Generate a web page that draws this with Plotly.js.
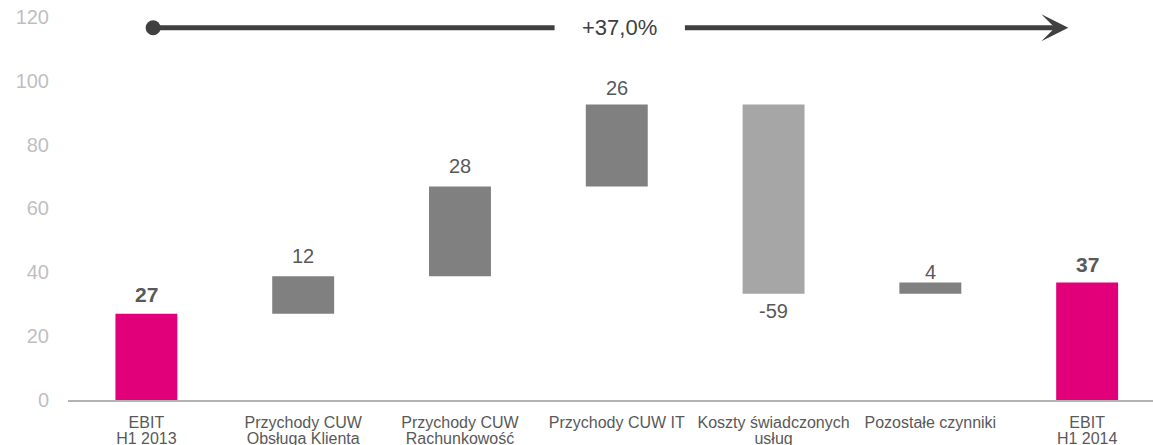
<!DOCTYPE html>
<html>
<head>
<meta charset="utf-8">
<script src="https://cdn.plot.ly/plotly-3.0.1.min.js"></script>
<style>
  html, body { margin: 0; padding: 0; background: #ffffff; }
  #chart { width: 1153px; height: 445px; }
</style>
</head>
<body>
<div id="chart"></div>
<script>
// ---- data ----
const labelLine1 = ['EBIT', 'Przychody CUW', 'Przychody CUW', 'Przychody CUW IT', 'Koszty świadczonych', 'Pozostałe czynniki', 'EBIT'];
const labelLine2 = ['H1 2013', 'Obsługa Klienta', 'Rachunkowość', '', 'usług', '', 'H1 2014'];
const values = [27.0, 11.8, 28.1, 25.7, -59.3, 3.5, 36.8];
const measures = ['total', 'relative', 'relative', 'relative', 'relative', 'relative', 'total'];
const valueLabels = ['27', '12', '28', '26', '-59', '4', '37'];
const changeLabel = '+37,0%';

// ---- styles ----
const FONT = 'Liberation Sans, Arial, sans-serif';
const colTotal = '#e2007a';
const colUp = '#808080';
const colDown = '#a6a6a6';
const labelGap = [12, 13, 13, 9, 8, 4, 11];

const xs = values.map((v, i) => i);
const bases = [];
const heights = [];
const colors = [];
let run = 0;
values.forEach((v, i) => {
  if (measures[i] === 'total') {
    bases.push(0); heights.push(v); colors.push(colTotal); run = v;
  } else {
    bases.push(run); heights.push(v); colors.push(v >= 0 ? colUp : colDown); run += v;
  }
});

const barTrace = {
  type: 'bar', x: xs, y: heights, base: bases, width: 0.395,
  marker: { color: colors, line: { width: 0 } },
  hoverinfo: 'skip', showlegend: false
};
const dummy = {
  type: 'scatter', mode: 'markers', x: xs, y: bases, xaxis: 'x2', yaxis: 'y',
  marker: { opacity: 0 }, hoverinfo: 'skip', showlegend: false
};

const annotations = [];
values.forEach((v, i) => {
  const isTot = measures[i] === 'total';
  const top = bases[i] + heights[i];
  if (v >= 0) {
    annotations.push({
      x: i, y: top, xref: 'x', yref: 'y', yanchor: 'bottom', showarrow: false,
      text: isTot ? '<b>' + valueLabels[i] + '</b>' : valueLabels[i],
      yshift: labelGap[i] - 6,
      font: { family: FONT, size: isTot ? 21 : 20, color: '#595959' }
    });
  } else {
    annotations.push({
      x: i, y: top, xref: 'x', yref: 'y', yanchor: 'top', showarrow: false,
      text: valueLabels[i], yshift: -(labelGap[i] - 4),
      font: { family: FONT, size: 20, color: '#595959' }
    });
  }
});

// growth arrow
const arrowY = 116.6;
annotations.push({
  x: 0.043, y: arrowY, ax: 2.613, ay: arrowY, xref: 'x', yref: 'y', axref: 'x', ayref: 'y',
  text: '', showarrow: true, arrowhead: 6, arrowsize: 0.75, arrowwidth: 5, arrowcolor: '#404040', standoff: 0
});
annotations.push({
  x: 5.88, y: arrowY, ax: 3.425, ay: arrowY, xref: 'x', yref: 'y', axref: 'x', ayref: 'y',
  text: '', showarrow: true, arrowhead: 3, arrowsize: 0.9, arrowwidth: 5, arrowcolor: '#404040', standoff: 0
});
annotations.push({
  x: 3.017, y: arrowY, xref: 'x', yref: 'y', showarrow: false, text: changeLabel,
  font: { family: FONT, size: 22, color: '#404040' }
});

const layout = {
  width: 1153, height: 445,
  margin: { l: 68, r: 0, t: 0, b: 45 },
  paper_bgcolor: '#ffffff', plot_bgcolor: '#ffffff',
  font: { family: FONT },
  showlegend: false,
  xaxis: {
    range: [-0.5, 6.42], tickmode: 'array', tickvals: xs, ticktext: labelLine1,
    showline: true, linecolor: '#b3b3b3', linewidth: 2, showgrid: false, zeroline: false,
    ticks: 'outside', ticklen: 7, tickcolor: 'rgba(0,0,0,0)',
    tickfont: { family: FONT, size: 16, color: '#595959' }, fixedrange: true
  },
  xaxis2: {
    overlaying: 'x', anchor: 'y', side: 'bottom',
    range: [-0.5, 6.42], tickmode: 'array', tickvals: xs, ticktext: labelLine2,
    showline: false, showgrid: false, zeroline: false, ticks: '', ticklabelstandoff: 27,
    tickfont: { family: FONT, size: 16, color: '#595959' }, fixedrange: true
  },
  yaxis: {
    range: [0, 125.3], tickmode: 'linear', tick0: 0, dtick: 20,
    showline: false, showgrid: false, zeroline: false, ticks: '',
    tickfont: { family: FONT, size: 20, color: '#bfbfbf' }, ticklabelstandoff: 18, fixedrange: true
  },
  annotations: annotations
};

Plotly.newPlot('chart', [barTrace, dummy], layout, { displayModeBar: false, staticPlot: true });
</script>
</body>
</html>
